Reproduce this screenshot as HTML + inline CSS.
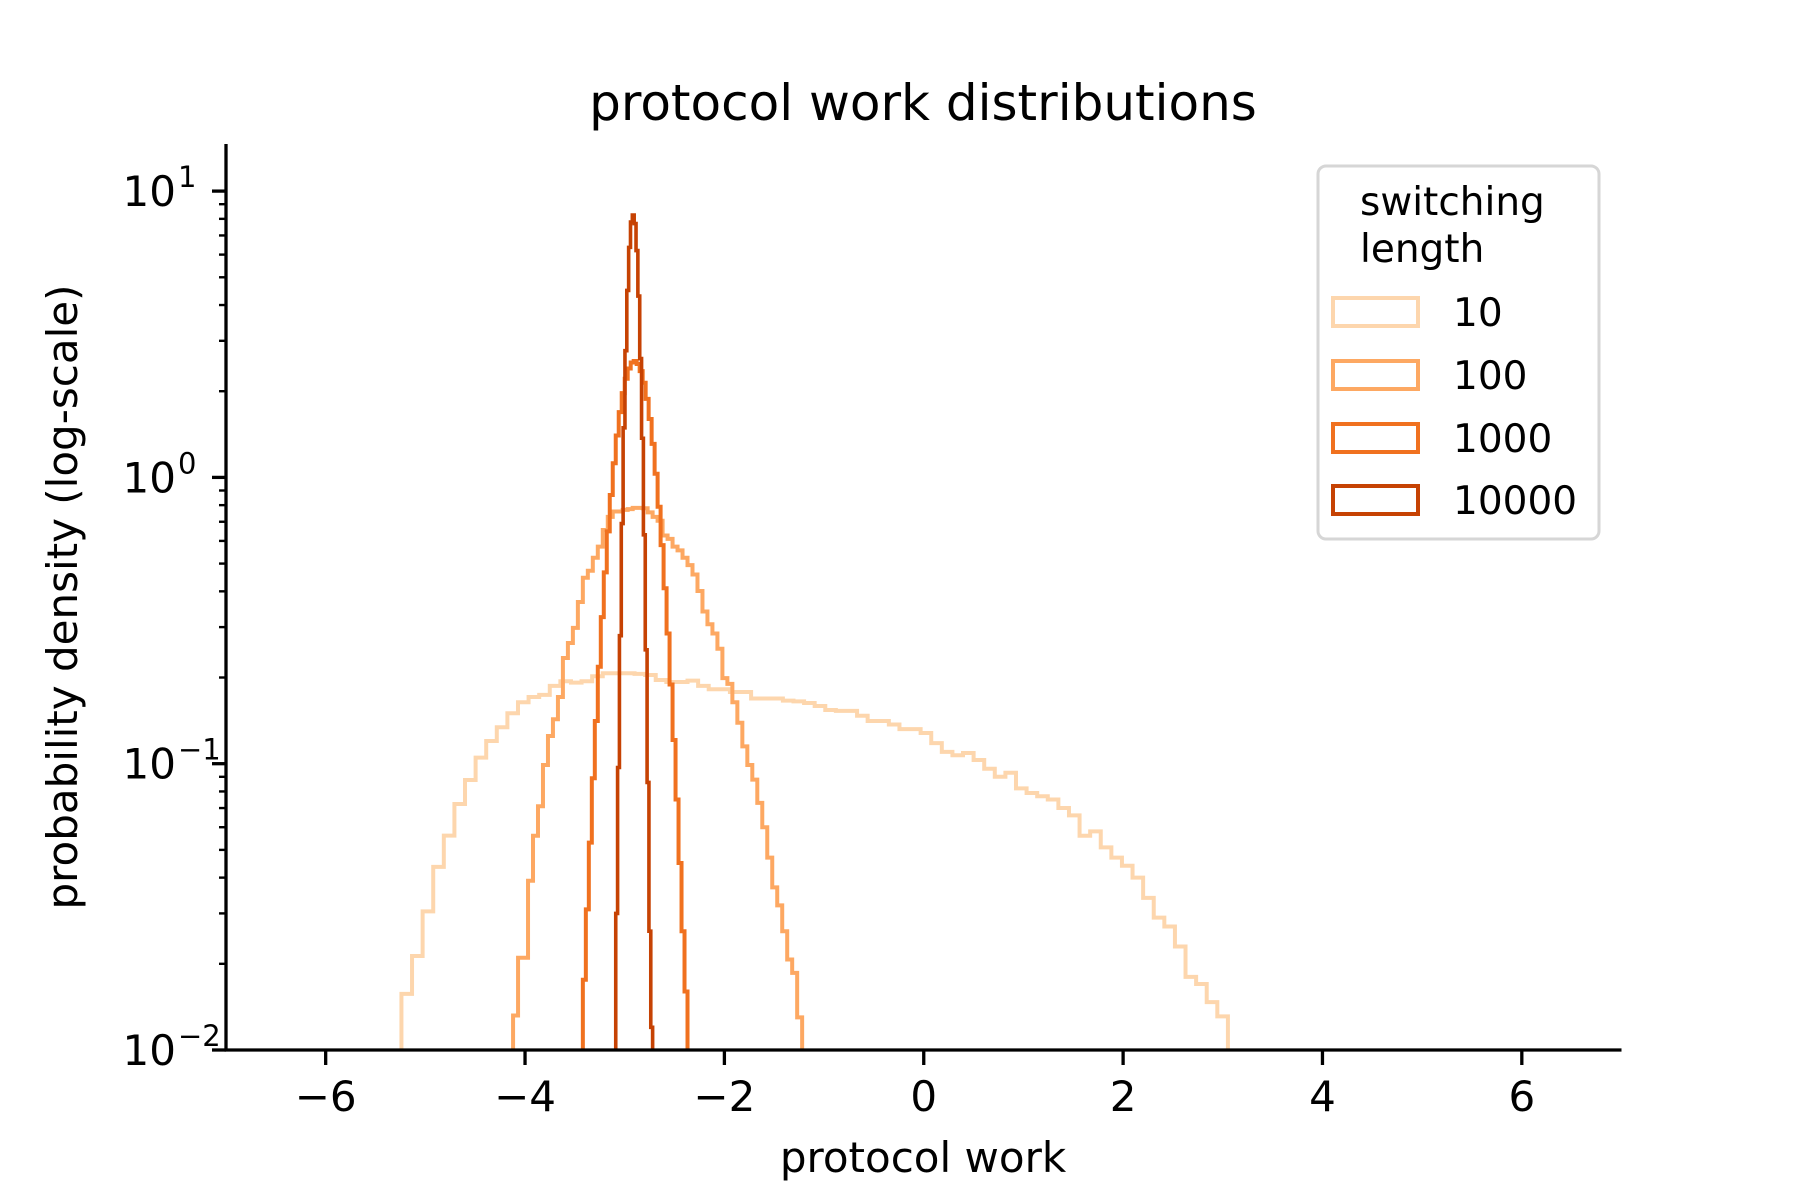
<!DOCTYPE html>
<html><head><meta charset="utf-8"><style>
html,body{margin:0;padding:0;background:#fff;}
svg{display:block;font-family:"DejaVu Sans","Liberation Sans",sans-serif;}
</style></head><body>
<svg id="chart" width="1800" height="1200" viewBox="0 0 1800 1200" xmlns="http://www.w3.org/2000/svg">
<defs><clipPath id="plotclip"><rect x="226" y="144" width="1396" height="906"/></clipPath></defs>
<rect x="0" y="0" width="1800" height="1200" fill="#fff"/>
<text x="923" y="120" font-size="50" text-anchor="middle">protocol work distributions</text>
<g id="series" clip-path="url(#plotclip)"></g>
<g id="axes"></g>
<text x="923" y="1172" font-size="42" text-anchor="middle">protocol work</text>
<text transform="translate(77,597) rotate(-90)" font-size="42" text-anchor="middle">probability density (log-scale)</text>
<g>
<rect x="1318" y="166" width="281" height="373" rx="8" fill="#fff" stroke="#d6d6d6" stroke-width="3"/>
<text x="1360" y="215" font-size="39">switching</text>
<text x="1360" y="262" font-size="39">length</text>
<g><rect x="1333" y="298" width="85" height="28" fill="none" stroke="#fdd6ad" stroke-width="4"/><text x="1453" y="326" font-size="39">10</text></g>
<g><rect x="1333" y="361" width="85" height="28" fill="none" stroke="#fda862" stroke-width="4"/><text x="1453" y="389" font-size="39">100</text></g>
<g><rect x="1333" y="424" width="85" height="28" fill="none" stroke="#f0711f" stroke-width="4"/><text x="1453" y="452" font-size="39">1000</text></g>
<g><rect x="1333" y="486" width="85" height="28" fill="none" stroke="#c64203" stroke-width="4"/><text x="1453" y="514" font-size="39">10000</text></g>
</g>
</svg>
<script>
// ---- data ----
const seriesLabels = ["10", "100", "1000", "10000"];
const binStart = [-5.24, -4.12, -3.42, -3.09];
const binWidth = [0.1063, 0.05, 0.03, 0.0185];
const density10 = [0.0157,0.0213,0.0305,0.0436,0.0561,0.0723,0.0877,0.105,0.120,0.134,0.150,0.164,0.171,0.174,0.187,0.194,0.192,0.194,0.202,0.207,0.207,0.207,0.206,0.204,0.196,0.193,0.193,0.195,0.187,0.182,0.182,0.178,0.178,0.169,0.169,0.169,0.166,0.165,0.163,0.159,0.154,0.153,0.153,0.147,0.141,0.141,0.137,0.132,0.132,0.128,0.118,0.110,0.107,0.109,0.103,0.096,0.090,0.093,0.082,0.079,0.077,0.075,0.070,0.066,0.056,0.058,0.051,0.047,0.044,0.040,0.034,0.029,0.027,0.023,0.018,0.017,0.0147,0.0131];
const density100 = [0.0132,0.021,0.021,0.039,0.056,0.071,0.099,0.125,0.143,0.171,0.234,0.264,0.298,0.367,0.446,0.472,0.524,0.573,0.655,0.728,0.76,0.76,0.77,0.775,0.783,0.783,0.78,0.755,0.728,0.706,0.627,0.61,0.573,0.556,0.524,0.494,0.458,0.401,0.34,0.307,0.285,0.252,0.199,0.19,0.164,0.139,0.115,0.099,0.088,0.073,0.060,0.047,0.037,0.032,0.026,0.0207,0.0186,0.013];
const density1000 = [0.0176,0.031,0.053,0.089,0.141,0.218,0.325,0.466,0.648,0.868,1.12,1.40,1.69,1.97,2.21,2.40,2.52,2.55,2.49,2.35,2.14,1.88,1.60,1.31,1.03,0.79,0.58,0.41,0.285,0.189,0.121,0.075,0.045,0.026,0.016];
const density10000 = [0.03,0.097,0.28,0.69,1.49,2.77,4.5,6.36,7.8,8.25,7.7,6.2,4.3,2.6,1.37,0.63,0.25,0.086,0.026,0.012];
const xTicks = [-6,-4,-2,0,2,4,6];
const yTickExps = [-2,-1,0,1];
const colors = ["#fdd6ad","#fda862","#f0711f","#c64203"];

// ---- axes ----
const X0=226, X1=1621.5, XMIN=-7, XMAX=7;
const YB=1050, DEC=286.3;
function xs(v){return X0+(v-XMIN)/(XMAX-XMIN)*(X1-X0);}
function ys(v){return YB-(Math.log10(v)+2)*DEC;}
const NS="http://www.w3.org/2000/svg";
function mk(tag,attrs,parent){const e=document.createElementNS(NS,tag);for(const k in attrs)e.setAttribute(k,attrs[k]);parent.appendChild(e);return e;}

const sg=document.getElementById('series');
const allData=[density10,density100,density1000,density10000];
allData.forEach((arr,si)=>{
  let d="M"+xs(binStart[si]).toFixed(2)+","+(YB+20);
  for(let i=0;i<arr.length;i++){
    const xa=xs(binStart[si]+i*binWidth[si]), xb=xs(binStart[si]+(i+1)*binWidth[si]);
    const y=ys(arr[i]);
    d+=" L"+xa.toFixed(2)+","+y.toFixed(2)+" L"+xb.toFixed(2)+","+y.toFixed(2);
  }
  d+=" L"+xs(binStart[si]+arr.length*binWidth[si]).toFixed(2)+","+(YB+20);
  const p=mk('path',{d:d,fill:'none',stroke:colors[si],'stroke-width':(si===3?3.6:4),'stroke-linejoin':'miter'},sg);
  
  
});

const ag=document.getElementById('axes');
const sl=mk('line',{x1:X0,y1:144,x2:X0,y2:YB+1.5,stroke:'#000','stroke-width':3.3},ag);


const sb=mk('line',{x1:X0-1.5,y1:YB,x2:X1,y2:YB,stroke:'#000','stroke-width':3.3},ag);


xTicks.forEach(t=>{
  const x=xs(t);
  const tk=mk('line',{x1:x,y1:YB,x2:x,y2:YB+15,stroke:'#000','stroke-width':3.3},ag);
  
  
  const tx=mk('text',{x:x,y:1111,'font-size':42,'text-anchor':'middle'},ag);
  tx.textContent=(t<0?'\u2212':'')+Math.abs(t);
  
  
});
yTickExps.forEach(e=>{
  const y=ys(Math.pow(10,e));
  const tk=mk('line',{x1:X0-14,y1:y,x2:X0,y2:y,stroke:'#000','stroke-width':3.3},ag);
  
  
  const tx=mk('text',{x:176,y:y+15,'font-size':42,'text-anchor':'end'},ag);
  tx.textContent='10';
  
  
  const sup=mk('text',{x:178,y:y-4,'font-size':29,'text-anchor':'start'},ag);
  sup.textContent=(e<0?'\u2212':'')+Math.abs(e);
  
  
  if(e<1){
    for(let m=2;m<=9;m++){
      const v=m*Math.pow(10,e); const yy=ys(v);
      if(yy<144) continue;
      const mt=mk('line',{x1:X0-7,y1:yy,x2:X0,y2:yy,stroke:'#000','stroke-width':2.4},ag);
      
      
    }
  }
});
</script>
</body></html>
